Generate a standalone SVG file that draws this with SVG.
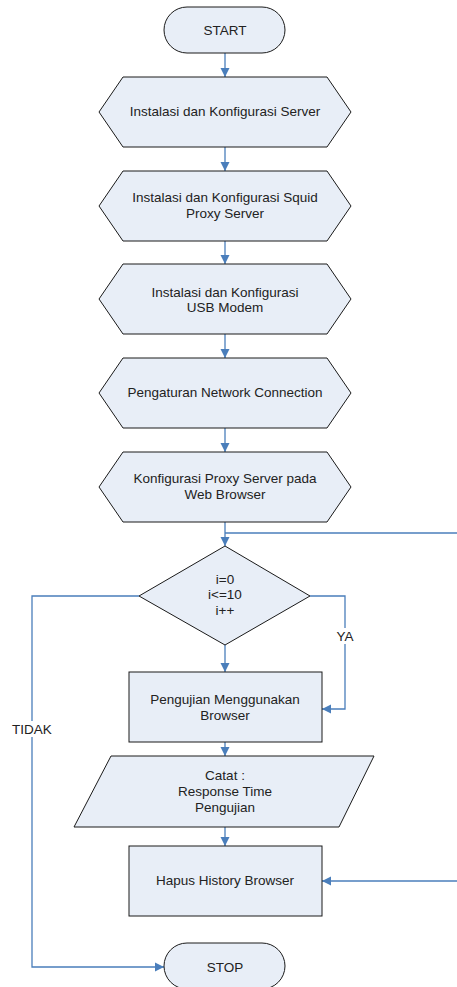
<svg xmlns="http://www.w3.org/2000/svg" width="457" height="987" viewBox="0 0 457 987">
<style>
.shape{fill:#E8EEF7;stroke:#1a1a1a;stroke-width:1}
.t{font-family:"Liberation Sans",Arial,sans-serif;font-size:13.5px;fill:#222;text-anchor:middle;dominant-baseline:central}
.c{fill:none;stroke:#4A7EBB;stroke-width:1.3}
.lbl{font-family:"Liberation Sans",Arial,sans-serif;font-size:13.5px;fill:#222;text-anchor:middle;dominant-baseline:central}
</style>
<defs>
<marker id="ah" markerUnits="userSpaceOnUse" markerWidth="10" markerHeight="10" refX="9" refY="5" orient="auto">
<path d="M0,0.5 L9,5 L0,9.5 Z" fill="#4A7EBB"/>
</marker>
</defs>
<rect width="457" height="987" fill="#fff"/>
<g id="connectors">
<line class="c" x1="225" y1="53" x2="225" y2="77" marker-end="url(#ah)"/>
<line class="c" x1="225" y1="147" x2="225" y2="171" marker-end="url(#ah)"/>
<line class="c" x1="225" y1="241" x2="225" y2="264" marker-end="url(#ah)"/>
<line class="c" x1="225" y1="334" x2="225" y2="358" marker-end="url(#ah)"/>
<line class="c" x1="225" y1="428" x2="225" y2="452" marker-end="url(#ah)"/>
<line class="c" x1="225" y1="522" x2="225" y2="546" marker-end="url(#ah)"/>
<line class="c" x1="225" y1="533" x2="457" y2="533"/>
<line class="c" x1="225" y1="645" x2="225" y2="672" marker-end="url(#ah)"/>
<polyline class="c" points="310,596 345,596 345,709 322,709" marker-end="url(#ah)"/>
<polyline class="c" points="139,596 32,596 32,967 164,967" marker-end="url(#ah)"/>
<line class="c" x1="225" y1="742" x2="225" y2="756" marker-end="url(#ah)"/>
<line class="c" x1="225" y1="827" x2="225" y2="846" marker-end="url(#ah)"/>
<line class="c" x1="457" y1="881" x2="322" y2="881" marker-end="url(#ah)"/>
<rect x="331" y="628" width="28" height="16" fill="#fff"/>
<text class="lbl" x="345" y="636">YA</text>
<rect x="9" y="721" width="46" height="16" fill="#fff"/>
<text class="lbl" x="32" y="729">TIDAK</text>
</g>
<g id="start">
<rect class="shape" x="164" y="7" width="121" height="46" rx="23"/>
<text class="t" x="225" y="30">START</text>
</g>
<g id="n1">
<polygon class="shape" points="99,112 123,77 327,77 351,112 327,147 123,147"/>
<text class="t" x="225" y="111">Instalasi dan Konfigurasi Server</text>
</g>
<g id="n2">
<polygon class="shape" points="99,206 123,171 327,171 351,206 327,241 123,241"/>
<text class="t" x="225" y="197">Instalasi dan Konfigurasi Squid</text>
<text class="t" x="225" y="213">Proxy Server</text>
</g>
<g id="n3">
<polygon class="shape" points="99,299 123,264 327,264 351,299 327,334 123,334"/>
<text class="t" x="225" y="292">Instalasi dan Konfigurasi</text>
<text class="t" x="225" y="307">USB Modem</text>
</g>
<g id="n4">
<polygon class="shape" points="99,393 123,358 327,358 351,393 327,428 123,428"/>
<text class="t" x="225" y="392">Pengaturan Network Connection</text>
</g>
<g id="n5">
<polygon class="shape" points="99,487 123,452 327,452 351,487 327,522 123,522"/>
<text class="t" x="225" y="478">Konfigurasi Proxy Server pada</text>
<text class="t" x="225" y="494">Web Browser</text>
</g>
<g id="decision">
<polygon class="shape" points="225,546 310,596 225,645 139,596"/>
<text class="t" x="225" y="579">i=0</text>
<text class="t" x="225" y="594">i&lt;=10</text>
<text class="t" x="225" y="610">i++</text>
</g>
<g id="n6">
<rect class="shape" x="129" y="672" width="193" height="70"/>
<text class="t" x="225" y="699">Pengujian Menggunakan</text>
<text class="t" x="225" y="715">Browser</text>
</g>
<g id="n7">
<polygon class="shape" points="111,756 374,756 339,827 74,827"/>
<text class="t" x="225" y="775">Catat :</text>
<text class="t" x="225" y="791">Response Time</text>
<text class="t" x="225" y="807">Pengujian</text>
</g>
<g id="n8">
<rect class="shape" x="129" y="846" width="193" height="70"/>
<text class="t" x="225" y="880">Hapus History Browser</text>
</g>
<g id="stop">
<rect class="shape" x="164" y="943" width="121" height="46" rx="23"/>
<text class="t" x="225" y="967">STOP</text>
</g>
</svg>
